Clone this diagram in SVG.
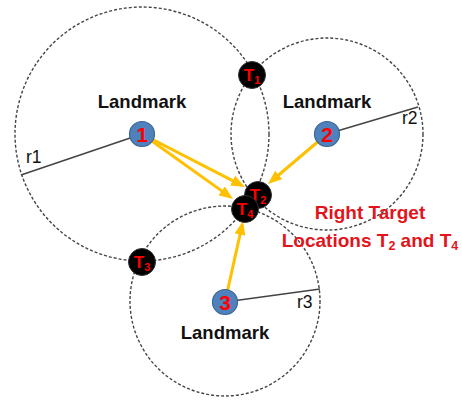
<svg xmlns="http://www.w3.org/2000/svg" width="462" height="401" viewBox="0 0 462 401">
<style>
.range{fill:none;stroke:#444;stroke-width:1.4;stroke-dasharray:3 2}
.radius{stroke:#444;stroke-width:1.6}
.arrow{stroke:#FFC000;stroke-width:3;fill:none;marker-end:url(#ah)}
.lm{fill:#4F81BD;stroke:#3A6594;stroke-width:1.2}
.tg{fill:#000;stroke:#333;stroke-width:1}
.num{font-family:"Liberation Sans",Arial,sans-serif;font-weight:bold;font-size:21px;fill:#FF0000;text-anchor:middle}
.tl{font-family:"Liberation Sans",Arial,sans-serif;font-weight:bold;font-size:17px;fill:#FF0000;text-anchor:middle}
.sub{font-size:11px}
.land{font-family:"Liberation Sans",Arial,sans-serif;font-weight:bold;font-size:18.5px;fill:#111;text-anchor:middle}
.r{font-family:"Liberation Sans",Arial,sans-serif;font-size:17.5px;fill:#111}
.cap{font-family:"Liberation Sans",Arial,sans-serif;font-weight:bold;font-size:19px;fill:#E3141B;text-anchor:middle}
</style>
<defs>
<marker id="ah" viewBox="0 0 14 11" refX="7" refY="5.5" markerWidth="14" markerHeight="11" markerUnits="userSpaceOnUse" orient="auto">
<path d="M0,0 L14,5.5 L0,11 z" fill="#FFC000"/>
</marker>
</defs>
<g id="ranges">
<circle class="range" cx="142" cy="134" r="127"/>
<circle class="range" cx="327" cy="134" r="96"/>
<circle class="range" cx="225" cy="301" r="95"/>
</g>
<g id="radii">
<line class="radius" x1="142" y1="134" x2="21" y2="175"/>
<line class="radius" x1="327" y1="134" x2="418" y2="107"/>
<line class="radius" x1="225" y1="302" x2="320" y2="289"/>
<text class="r" x="26" y="163">r1</text>
<text class="r" x="402" y="124">r2</text>
<text class="r" x="297" y="308">r3</text>
</g>
<g id="connectors">
<line class="arrow" x1="142" y1="134" x2="238.8" y2="183.8"/>
<line class="arrow" x1="142" y1="134" x2="227.3" y2="194.9"/>
<line class="arrow" x1="327" y1="134" x2="273.3" y2="179.5"/>
<line class="arrow" x1="225" y1="302" x2="241.5" y2="227.8"/>
</g>
<g id="landmark1">
<circle class="lm" cx="142" cy="134" r="12.5"/>
<text class="num" x="142" y="141.5">1</text>
<text class="land" x="142" y="108">Landmark</text>
</g>
<g id="landmark2">
<circle class="lm" cx="327" cy="134" r="12.5"/>
<text class="num" x="327" y="141.5">2</text>
<text class="land" x="327" y="108">Landmark</text>
</g>
<g id="landmark3">
<circle class="lm" cx="225" cy="302" r="12.5"/>
<text class="num" x="225" y="309.5">3</text>
<text class="land" x="225" y="339">Landmark</text>
</g>
<g id="T1">
<circle class="tg" cx="252" cy="75" r="13.5"/>
<text class="tl" x="252" y="80.5">T<tspan class="sub" dy="3">1</tspan></text>
</g>
<g id="T3">
<circle class="tg" cx="142" cy="262" r="13.5"/>
<text class="tl" x="142" y="267.5">T<tspan class="sub" dy="3">3</tspan></text>
</g>
<g id="T2">
<circle class="tg" cx="258" cy="195" r="13.5"/>
<text class="tl" x="258" y="200.5">T<tspan class="sub" dy="3">2</tspan></text>
</g>
<g id="T4">
<circle class="tg" cx="245" cy="209" r="13.5"/>
<text class="tl" x="245" y="214.5">T<tspan class="sub" dy="3">4</tspan></text>
</g>
<g id="caption">
<text class="cap" x="370" y="219">Right Target</text>
<text class="cap" x="370" y="247">Locations T<tspan font-size="12.5" dy="3">2</tspan><tspan dy="-3"> and T</tspan><tspan font-size="12.5" dy="3">4</tspan></text>
</g>
</svg>
